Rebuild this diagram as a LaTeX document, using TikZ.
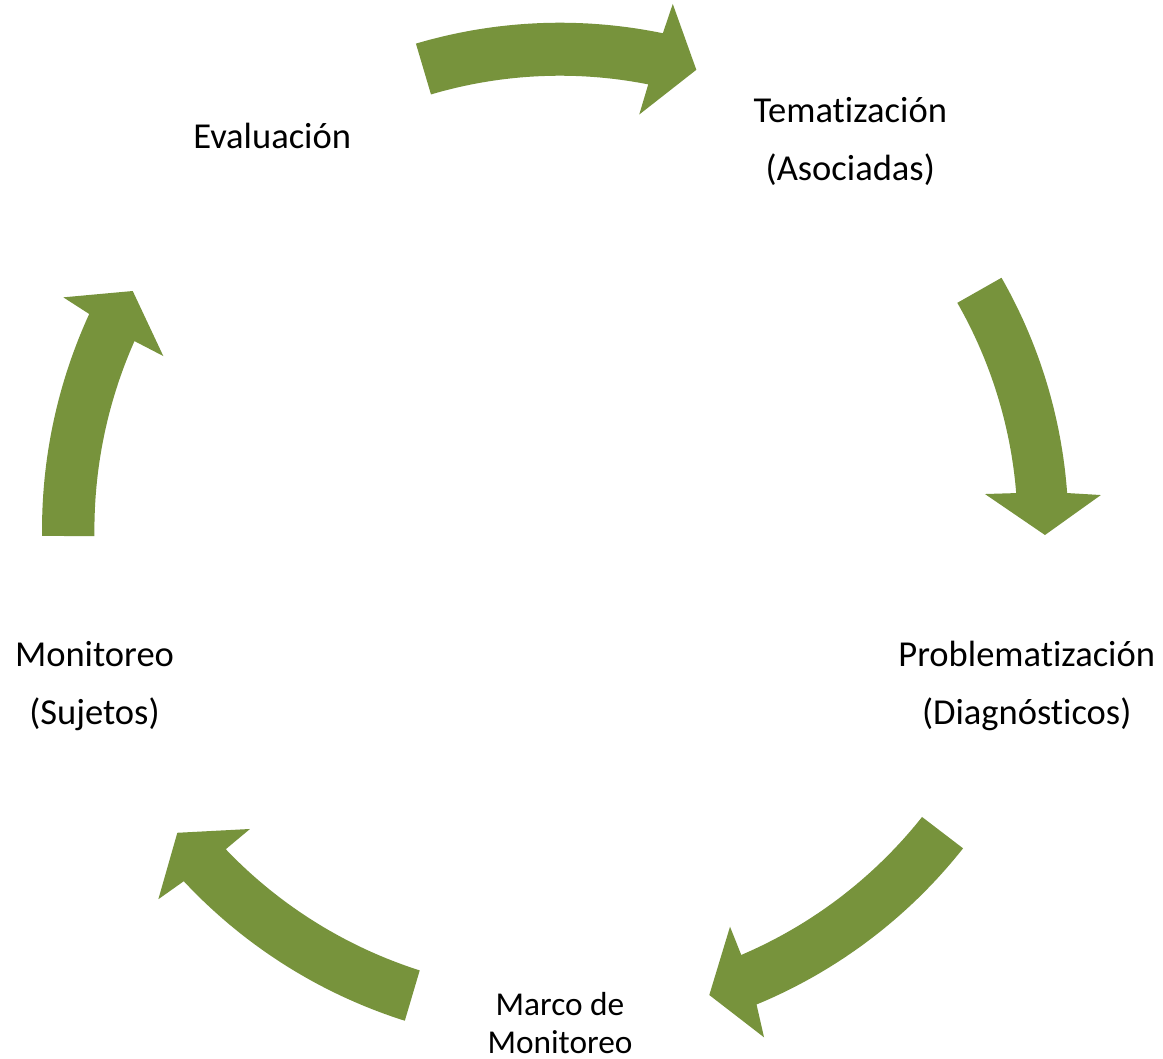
\documentclass[tikz,border=0pt]{standalone}
\usepackage{fontspec}
\setmainfont{Carlito}[Ligatures={NoCommon}]
\definecolor{cyclegreen}{RGB}{119,147,60}
\tikzset{
  arrowfill/.style={fill=cyclegreen, draw=none},
  mainlabel/.style={font=\fontsize{27.4pt}{43.5pt}\selectfont, align=center, anchor=base, inner sep=0pt, text=black},
  smalllabel/.style={font=\fontsize{25pt}{28.3pt}\selectfont, align=center, anchor=base, inner sep=0pt, text=black}
}
\begin{document}
\begin{tikzpicture}[x=0.75pt, y=-0.75pt]
\fill[white] (0,0) rectangle (1163,1058);
\useasboundingbox (0,0) rectangle (1163,1058);
\coordinate (c) at (560,530);
\begin{scope}[shift={(c)}]
% top arrow
\fill[arrowfill] plot[domain=253.5:281.7, samples=40] (\x:507.3) -- (282.1:538) -- (286.5:480) -- (280.8:423)
  -- plot[domain=281.2:253.5, samples=40] (\x:454.3) -- cycle;
% right arrow
\fill[arrowfill] plot[domain=330.26:355.83, samples=40] (\x:508.5) -- (356.3:542) -- (360.59:485) -- (355.16:426.5)
  -- plot[domain=355.37:330.24, samples=40] (\x:457.7) -- cycle;
% bottom-right arrow
\fill[arrowfill] plot[domain=38.3:67.5, samples=40] (\x:513.6) -- (68.09:546.8) -- (72.2:488.4) -- (66.8:431.6)
  -- plot[domain=66.9:38.4, samples=40] (\x:462) -- cycle;
% bottom-left arrow
\fill[arrowfill] plot[domain=107.55:136.97, samples=40] (\x:514.7) -- (137.41:545.6) -- (141.65:488) -- (136.04:430.7)
  -- plot[domain=136.32:107.67, samples=40] (\x:462.2) -- cycle;
% left arrow
\fill[arrowfill] plot[domain=179.34:204.65, samples=40] (\x:518) -- (205.1:548.5) -- (209.22:489.6) -- (203.68:433.2)
  -- plot[domain=203.94:179.26, samples=40] (\x:465.6) -- cycle;
\end{scope}
% multi-line nodes: base anchor is the baseline of the last line
\node[mainlabel] (eval) at (272.2,148.3) {Evaluación};
\node[mainlabel] (tema) at (850.3,180) {Tematización\\(Asociadas)};
\node[mainlabel] (prob) at (1026.7,724.3) {Problematización\\(Diagnósticos)};
\node[mainlabel] (moni) at (94.5,724) {Monitoreo\\(Sujetos)};
\node[smalllabel] (marco) at (560,1053.3) {Marco de\\Monitoreo};
\end{tikzpicture}
\end{document}
